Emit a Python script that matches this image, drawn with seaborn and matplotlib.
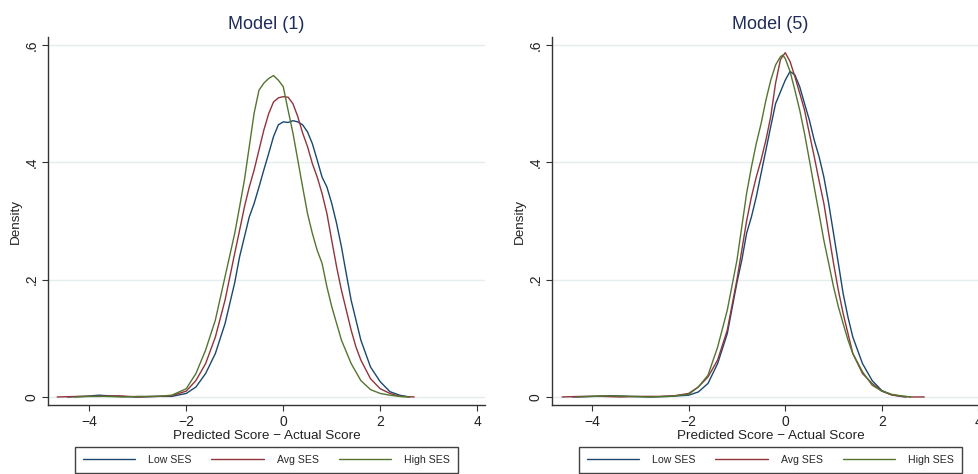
import numpy as np
import pandas as pd
import matplotlib
matplotlib.use("Agg")
import matplotlib.pyplot as plt
import seaborn as sns

# ---- data (x = predicted - actual score, y = density) ----
groups = ["Low SES", "Avg SES", "High SES"]
colors = ["#1a476f", "#90353b", "#55752f"]

# Model (1)
m1_low_x = [-4.45, -4.1, -3.8, -3.4, -3.0, -2.6, -2.3, -2.0, -1.8, -1.6, -1.4, -1.2, -1.0, -0.9, -0.8,
            -0.7, -0.6, -0.5, -0.4, -0.3, -0.2, -0.1, 0.0, 0.1, 0.2, 0.3, 0.4, 0.5, 0.6, 0.7, 0.8,
            0.9, 1.0, 1.1, 1.2, 1.3, 1.4, 1.5, 1.6, 1.8, 2.0, 2.2, 2.4, 2.6]
m1_low_y = [0.0, 0.001, 0.003, 0.001, 0.0, 0.001, 0.001, 0.006, 0.017, 0.040, 0.074, 0.125, 0.195, 0.239,
            0.273, 0.307, 0.330, 0.358, 0.387, 0.415, 0.444, 0.464, 0.469, 0.468, 0.471, 0.469, 0.464,
            0.452, 0.432, 0.404, 0.375, 0.358, 0.330, 0.296, 0.256, 0.210, 0.165, 0.131, 0.097, 0.051,
            0.026, 0.009, 0.003, 0.0]
m1_avg_x = [-4.66, -4.2, -3.8, -3.4, -3.0, -2.6, -2.3, -2.0, -1.8, -1.6, -1.4, -1.2, -1.0, -0.9, -0.8,
            -0.7, -0.6, -0.5, -0.4, -0.3, -0.2, -0.1, 0.0, 0.1, 0.2, 0.3, 0.4, 0.5, 0.6, 0.7, 0.8,
            0.9, 1.0, 1.1, 1.2, 1.3, 1.4, 1.5, 1.6, 1.8, 2.0, 2.2, 2.4, 2.7]
m1_avg_y = [0.0, 0.001, 0.001, 0.002, 0.0, 0.001, 0.002, 0.010, 0.028, 0.057, 0.102, 0.165, 0.245, 0.284,
            0.324, 0.358, 0.387, 0.421, 0.455, 0.483, 0.503, 0.510, 0.512, 0.511, 0.500, 0.478, 0.450,
            0.427, 0.398, 0.375, 0.347, 0.313, 0.267, 0.222, 0.182, 0.148, 0.114, 0.085, 0.063, 0.031,
            0.014, 0.006, 0.001, 0.0]
m1_high_x = [-4.3, -4.0, -3.7, -3.3, -3.0, -2.6, -2.3, -2.0, -1.8, -1.6, -1.4, -1.2, -1.0, -0.9, -0.8,
             -0.7, -0.6, -0.5, -0.4, -0.3, -0.2, -0.1, 0.0, 0.1, 0.2, 0.3, 0.4, 0.5, 0.6, 0.7, 0.8,
             0.9, 1.0, 1.2, 1.4, 1.6, 1.8, 2.0, 2.2, 2.4, 2.6]
m1_high_y = [0.0, 0.001, 0.001, 0.0, 0.001, 0.001, 0.003, 0.014, 0.040, 0.080, 0.131, 0.205, 0.279, 0.324,
             0.370, 0.427, 0.484, 0.523, 0.535, 0.543, 0.548, 0.540, 0.529, 0.489, 0.450, 0.404, 0.358,
             0.313, 0.279, 0.250, 0.228, 0.188, 0.154, 0.097, 0.057, 0.028, 0.0125, 0.006, 0.003,
             0.001, 0.0]

# Model (5)
m5_low_x = [-4.4, -4.0, -3.6, -3.2, -2.8, -2.4, -2.0, -1.8, -1.6, -1.4, -1.2, -1.0, -0.9, -0.8, -0.7,
            -0.6, -0.5, -0.4, -0.3, -0.2, -0.1, 0.0, 0.1, 0.2, 0.3, 0.4, 0.5, 0.6, 0.7, 0.8, 0.9, 1.0,
            1.1, 1.2, 1.3, 1.4, 1.6, 1.8, 2.0, 2.2, 2.4, 2.5]
m5_low_y = [0.0, 0.001, 0.002, 0.001, 0.0, 0.001, 0.003, 0.0085, 0.023, 0.057, 0.108, 0.195, 0.233,
            0.279, 0.307, 0.341, 0.381, 0.421, 0.461, 0.500, 0.520, 0.540, 0.555, 0.549, 0.529, 0.500,
            0.472, 0.438, 0.410, 0.375, 0.330, 0.279, 0.228, 0.176, 0.136, 0.102, 0.057, 0.028, 0.011,
            0.004, 0.001, 0.0]
m5_avg_x = [-4.62, -4.2, -3.8, -3.4, -3.0, -2.6, -2.3, -2.0, -1.8, -1.6, -1.4, -1.2, -1.0, -0.9, -0.8,
            -0.7, -0.6, -0.5, -0.4, -0.3, -0.2, -0.1, 0.0, 0.1, 0.2, 0.3, 0.4, 0.5, 0.6, 0.7, 0.8, 0.9,
            1.0, 1.1, 1.2, 1.3, 1.4, 1.6, 1.8, 2.0, 2.2, 2.4, 2.6, 2.88]
m5_avg_y = [0.0, 0.001, 0.001, 0.0, 0.001, 0.001, 0.002, 0.006, 0.017, 0.034, 0.063, 0.114, 0.200, 0.250,
            0.300, 0.341, 0.375, 0.404, 0.438, 0.478, 0.535, 0.575, 0.587, 0.572, 0.546, 0.518, 0.489,
            0.449, 0.410, 0.369, 0.330, 0.279, 0.228, 0.182, 0.142, 0.108, 0.074, 0.040, 0.023, 0.010,
            0.0034, 0.001, 0.0, 0.0]
m5_high_x = [-4.3, -4.0, -3.6, -3.2, -2.8, -2.4, -2.0, -1.8, -1.6, -1.4, -1.2, -1.0, -0.9, -0.8, -0.7,
             -0.6, -0.5, -0.4, -0.3, -0.2, -0.1, -0.05, 0.0, 0.1, 0.2, 0.3, 0.4, 0.5, 0.6, 0.7, 0.8,
             0.9, 1.0, 1.1, 1.2, 1.3, 1.4, 1.6, 1.8, 2.0, 2.2, 2.4, 2.6]
m5_high_y = [0.0, 0.001, 0.002, 0.001, 0.0, 0.001, 0.0045, 0.017, 0.037, 0.085, 0.148, 0.233, 0.290,
             0.347, 0.392, 0.432, 0.466, 0.506, 0.540, 0.566, 0.580, 0.583, 0.577, 0.555, 0.523, 0.489,
             0.449, 0.404, 0.358, 0.313, 0.267, 0.228, 0.188, 0.154, 0.125, 0.097, 0.074, 0.043, 0.020,
             0.010, 0.0045, 0.002, 0.0]

panel_titles = ["Model (1)", "Model (5)"]
x_ticks = [-4, -2, 0, 2, 4]
x_tick_labels = ["\u22124", "\u22122", "0", "2", "4"]
y_ticks = [0, 0.2, 0.4, 0.6]
y_tick_labels = ["0", ".2", ".4", ".6"]
x_label = "Predicted Score \u2212 Actual Score"
y_label = "Density"


def long_frame(series):
    frames = []
    for name, xs, ys in series:
        frames.append(pd.DataFrame({"x": xs, "y": ys, "group": name}))
    return pd.concat(frames, ignore_index=True)


panels = [
    long_frame([("Low SES", m1_low_x, m1_low_y), ("Avg SES", m1_avg_x, m1_avg_y),
                ("High SES", m1_high_x, m1_high_y)]),
    long_frame([("Low SES", m5_low_x, m5_low_y), ("Avg SES", m5_avg_x, m5_avg_y),
                ("High SES", m5_high_x, m5_high_y)]),
]

sns.set_theme(style="white")
plt.rcParams["font.family"] = ["Liberation Sans", "DejaVu Sans"]

fig = plt.figure(figsize=(9.79, 4.74), dpi=100)
fig.patch.set_facecolor("white")

W, H = 979.0, 474.0
ax_w = 437 / W
ax_b = 1 - 405 / H
ax_h = (405 - 37) / H
lefts = [48 / W, 552 / W]
xlims = [(-4.85, 4.16), (-4.83, 4.22)]

palette = dict(zip(groups, colors))

for i, df in enumerate(panels):
    ax = fig.add_axes([lefts[i], ax_b, ax_w, ax_h])
    ax.set_facecolor("white")
    for yv in y_ticks:
        ax.axhline(yv, color="#e4edef", lw=1.0, zorder=0)
    sns.lineplot(data=df, x="x", y="y", hue="group", hue_order=groups, palette=palette,
                 estimator=None, sort=False, lw=1.0, ax=ax, legend=True)
    for ln in ax.get_lines():
        ln.set_solid_joinstyle("round")
    ax.set_xlim(*xlims[i])
    ax.set_ylim(-0.0137, 0.6137)
    ax.set_xticks(x_ticks)
    ax.set_xticklabels(x_tick_labels, fontsize=10, color="#222222")
    ax.set_yticks(y_ticks)
    ax.set_yticklabels(y_tick_labels, fontsize=10, rotation=90, va="center", color="#222222")
    ax.tick_params(axis="both", which="both", direction="out", length=4, width=0.8,
                   color="#333333", left=True, bottom=True, pad=3)
    for s in ["top", "right"]:
        ax.spines[s].set_visible(False)
    for s in ["left", "bottom"]:
        ax.spines[s].set_color("#333333")
        ax.spines[s].set_linewidth(1.0)
    ax.set_xlabel(x_label, fontsize=9.7, color="#222222", labelpad=1)
    ax.set_ylabel(y_label, fontsize=9.7, color="#222222", labelpad=2)
    ax.set_title(panel_titles[i], fontsize=13, color="#1e2c5a", pad=6)
    handles, labels = ax.get_legend_handles_labels()
    leg = ax.legend(handles, labels, ncol=3, mode="expand",
                    bbox_to_anchor=(0.061, -0.185, 0.877, 0.065), loc="lower left",
                    fontsize=7.6, frameon=True, fancybox=False, handlelength=5,
                    handletextpad=1.2, columnspacing=2.5, borderpad=0.75, borderaxespad=0)
    leg.get_frame().set_edgecolor("#111111")
    leg.get_frame().set_linewidth(1.0)
    for lh in leg.get_lines():
        lh.set_linewidth(1.0)

fig.savefig("out.png", dpi=100, facecolor="white")
